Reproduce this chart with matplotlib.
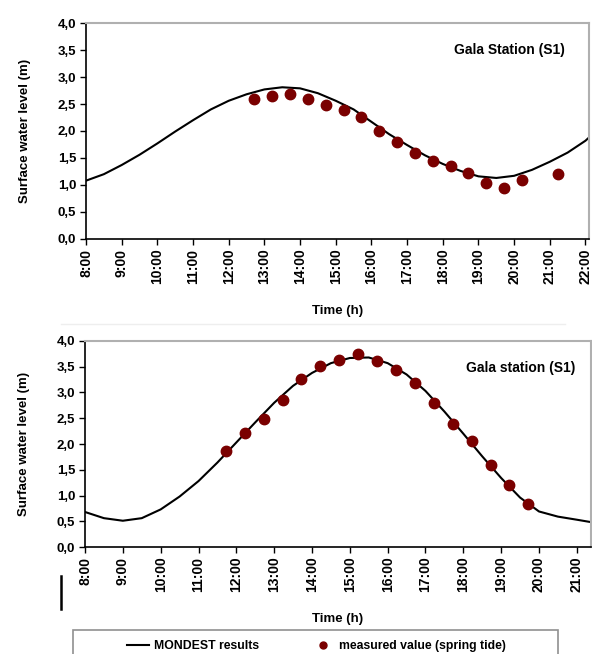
import matplotlib
matplotlib.use("Agg")
import matplotlib.pyplot as plt
from matplotlib.patches import Rectangle
from matplotlib.lines import Line2D

plt.rcParams["font.family"] = ["Liberation Sans", "DejaVu Sans"]
plt.rcParams["font.weight"] = "bold"

# Top panel (neap/normal tide) ------------------------------------------------
top_model_t = [8.0, 8.5, 9.0, 9.5, 10.0, 10.5, 11.0, 11.5, 12.0, 12.5, 13.0, 13.5,
               14.0, 14.5, 15.0, 15.5, 16.0, 16.5, 17.0, 17.5, 18.0, 18.5, 19.0,
               19.5, 20.0, 20.5, 21.0, 21.5, 22.0, 22.1]
top_model_h = [1.08, 1.20, 1.37, 1.56, 1.77, 1.99, 2.20, 2.40, 2.56, 2.68, 2.77, 2.81,
               2.79, 2.70, 2.56, 2.40, 2.17, 1.94, 1.74, 1.55, 1.39, 1.26, 1.16,
               1.13, 1.17, 1.28, 1.43, 1.60, 1.82, 1.88]
top_meas_t = [12.72, 13.22, 13.72, 14.22, 14.72, 15.22, 15.72, 16.22, 16.72, 17.22,
              17.72, 18.22, 18.72, 19.22, 19.72, 20.22, 21.22]
top_meas_h = [2.59, 2.65, 2.68, 2.59, 2.49, 2.39, 2.25, 2.00, 1.80, 1.59,
              1.44, 1.35, 1.22, 1.04, 0.94, 1.10, 1.20]

# Bottom panel (spring tide) --------------------------------------------------
bot_model_t = [8.0, 8.5, 9.0, 9.5, 10.0, 10.5, 11.0, 11.5, 12.0, 12.5, 13.0, 13.5,
               14.0, 14.5, 15.0, 15.5, 16.0, 16.5, 17.0, 17.5, 18.0, 18.5, 19.0,
               19.5, 20.0, 20.5, 21.0, 21.4]
bot_model_h = [0.68, 0.56, 0.51, 0.56, 0.73, 0.98, 1.28, 1.64, 2.03, 2.42, 2.80, 3.13,
               3.38, 3.57, 3.67, 3.68, 3.57, 3.35, 3.03, 2.63, 2.20, 1.76, 1.34,
               0.96, 0.69, 0.59, 0.53, 0.48]
bot_meas_t = [11.73, 12.23, 12.72, 13.23, 13.71, 14.22, 14.72, 15.22, 15.72, 16.23,
              16.72, 17.22, 17.73, 18.23, 18.72, 19.22, 19.72]
bot_meas_h = [1.86, 2.21, 2.49, 2.85, 3.26, 3.51, 3.64, 3.74, 3.62, 3.43,
              3.18, 2.80, 2.38, 2.05, 1.59, 1.20, 0.83]

y_ticks = [0.0, 0.5, 1.0, 1.5, 2.0, 2.5, 3.0, 3.5, 4.0]
DOT = "#7a0000"
FS = 9.5


def style_axes(ax, hours, xmax, station, sx, sy):
    ax.set_xlim(8, xmax)
    ax.set_ylim(0, 4)
    ax.set_yticks(y_ticks)
    ax.set_yticklabels([f"{v:.1f}".replace(".", ",") for v in y_ticks],
                       fontsize=FS, fontweight="bold")
    ax.set_xticks(hours)
    ax.set_xticklabels([f"{h}:00" for h in hours], rotation=90,
                       fontsize=FS + 0.5, fontweight="bold")
    ax.tick_params(direction="out", length=4, width=1, pad=3)
    for s in ["top", "right"]:
        ax.spines[s].set_color("#b0b0b0")
        ax.spines[s].set_linewidth(1.5)
    for s in ["left", "bottom"]:
        ax.spines[s].set_color("black")
        ax.spines[s].set_linewidth(1.2)
    ax.set_ylabel("Surface water level (m)", fontsize=FS, fontweight="bold",
                  labelpad=19)
    ax.set_xlabel("Time (h)", fontsize=FS, fontweight="bold", labelpad=15)
    ax.text(sx, sy, station, transform=ax.transAxes, ha="right",
            va="center", fontsize=10, fontweight="bold")


fig = plt.figure(figsize=(5.92, 6.54), dpi=100)

ax1 = fig.add_axes([0.1453, 0.6346, 0.8497, 0.3302])
ax1.plot(top_model_t, top_model_h, color="black", lw=1.5)
ax1.plot(top_meas_t, top_meas_h, "o", color=DOT, ms=7.5)
style_axes(ax1, list(range(8, 23)), 22.1, "Gala Station (S1)", 0.952, 0.875)

ax2 = fig.add_axes([0.1436, 0.1636, 0.8544, 0.3150])
ax2.plot(bot_model_t, bot_model_h, color="black", lw=1.5)
ax2.plot(bot_meas_t, bot_meas_h, "o", color=DOT, ms=7.5)
style_axes(ax2, list(range(8, 22)), 21.37, "Gala station (S1)", 0.970, 0.870)

# faint separator line and stray black tick from original
fig.add_artist(Line2D([0.103, 0.955], [1 - 324 / 654] * 2, color="#eeeeee", lw=1))
fig.add_artist(Line2D([61 / 592] * 2, [1 - 576 / 654, 1 - 609 / 654],
                      color="black", lw=1.8))

# legend box, partly cut off at bottom
fig.add_artist(Rectangle((73 / 592, -0.02), (558 - 73) / 592, 0.02 + 1 - 630 / 654,
                         transform=fig.transFigure, fill=False,
                         edgecolor="#909090", lw=1.2))
handles = [Line2D([], [], color="black", lw=1.5),
           Line2D([], [], marker="o", ls="", color=DOT, ms=5)]
fig.legend(handles, ["MONDEST results", "measured value (spring tide)"],
           loc="center", bbox_to_anchor=(0.5346, 1 - 646 / 654), ncol=2,
           frameon=False, handlelength=1.8, handletextpad=0.4, columnspacing=4.35,
           prop={"size": 8.8, "weight": "bold"})

fig.savefig("out.png", dpi=100)
